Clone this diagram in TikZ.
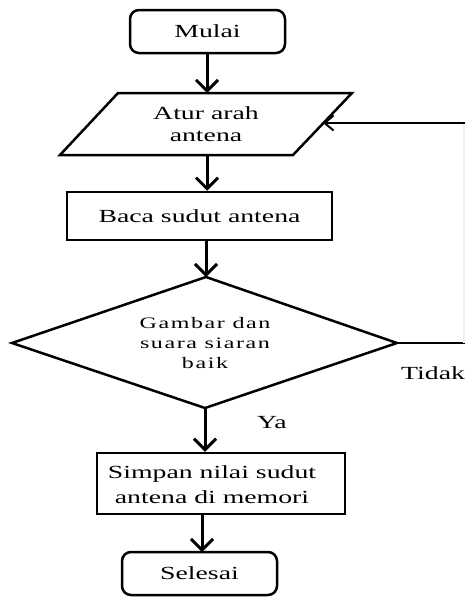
\documentclass[tikz,border=0pt]{standalone}
\usepackage{fontspec}
\setmainfont[FakeStretch=1.5]{Liberation Serif}
\newfontfamily\diafont[FakeStretch=1.5,LetterSpace=10]{Liberation Serif}
\usetikzlibrary{arrows.meta}
\begin{document}
\begin{tikzpicture}[x=1pt,y=-1pt,
  shapeline/.style={line width=2.5pt, line join=miter},
  terminal/.style={shapeline, draw, rounded corners=9pt, minimum width=155pt, minimum height=43pt, inner sep=0pt, font=\fontsize{18.5}{22}\selectfont},
  process/.style={shapeline, draw, inner sep=0pt, align=center, font=\fontsize{18.5}{25}\selectfont},
  txt/.style={inner sep=0pt, align=center, font=\fontsize{18.5}{22}\selectfont},
  flow/.style={line width=3pt, -{Straight Barb[length=11pt,width=22pt,line width=3pt]}},
  loopline/.style={line width=2.5pt},
  looparrow/.style={line width=2.5pt, -{Straight Barb[length=9pt,width=15pt,line width=2pt]}}]
\useasboundingbox (0,0) rectangle (465,597);
\fill[white] (0,0) rectangle (465,597);

% Mulai
\node[terminal] (mulai) at (207.5,31.5) {Mulai};

% parallelogram
\coordinate (p1) at (118,93);
\coordinate (p2) at (352,93);
\coordinate (p3) at (293,155);
\coordinate (p4) at (60,155);
\draw[shapeline] (p1) -- (p2) -- (p3) -- (p4) -- cycle;
\node[txt] (atur) at (206,124) {Atur arah\\antena};
\coordinate (aturtop) at (207,93);
\coordinate (aturbot) at (207,155);
\coordinate (ain) at (323,123);

% Baca
\node[process, minimum width=265pt, minimum height=48pt] (baca) at (199.5,216) {Baca sudut antena};

% diamond
\coordinate (dt) at (206,277);
\coordinate (dl) at (12,343);
\coordinate (dr) at (397,343);
\coordinate (db) at (205,408);
\draw[shapeline] (dt) -- (dr) -- (db) -- (dl) -- cycle;
\node[inner sep=0pt, align=center, font=\diafont\fontsize{16}{20}\selectfont] (cek) at (205,343) {Gambar dan\\suara siaran\\baik};

% Simpan
\node[process, minimum width=248pt, minimum height=61pt] (simpan) at (221,483.5) {};
\node[txt, font=\fontsize{18.5}{25}\selectfont] (simpantxt) at (212,484.5) {Simpan nilai sudut\\antena di memori};

% Selesai
\node[terminal] (selesai) at (199.5,573.5) {Selesai};

% labels
\node[txt, anchor=west] (tidak) at (401,373) {Tidak};
\node[txt] (ya) at (272,423) {Ya};

% connectors
\draw[flow] (mulai.south -| aturtop) -- (aturtop);
\draw[flow] (aturbot) -- (aturbot |- baca.north);
\draw[flow] (baca.south -| dt) -- (dt);
\draw[flow] (db) -- (db |- simpan.north);
\coordinate (selin) at (202,552);
\draw[flow] (simpan.south -| selin) -- (selin);

% loop back
\coordinate (rc1) at (464,343);
\coordinate (rc2) at (464,123);
\draw[loopline] (dr) -- (rc1 -| 466,0);
\draw[loopline, gray!12] (rc1) -- (rc2);
\draw[looparrow] (rc2 -| 466,0) -- (ain);
\end{tikzpicture}
\end{document}
